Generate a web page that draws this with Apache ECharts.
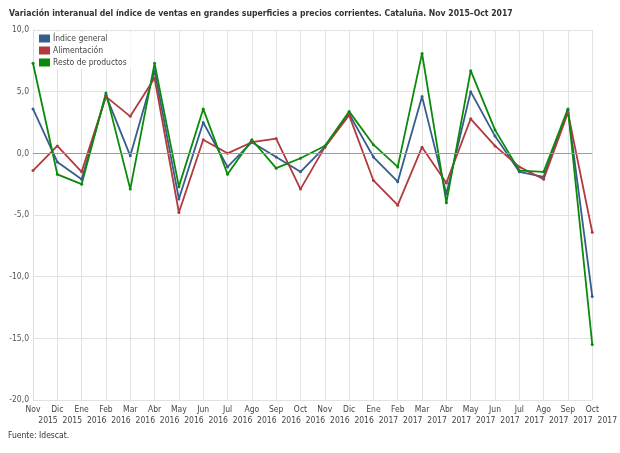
<!DOCTYPE html>
<html>
<head>
<meta charset="utf-8">
<script src="https://cdn.jsdelivr.net/npm/echarts@6/dist/echarts.min.js"></script>
<style>
html,body{margin:0;padding:0;background:#fff;}
#c{width:620px;height:453px;}
</style>
</head>
<body>
<div id="c"></div>
<script>
var months = ['Nov','Dic','Ene','Feb','Mar','Abr','May','Jun','Jul','Ago','Sep','Oct','Nov','Dic','Ene','Feb','Mar','Abr','May','Jun','Jul','Ago','Sep','Oct'];
var years = ['2015','2015','2016','2016','2016','2016','2016','2016','2016','2016','2016','2016','2016','2016','2017','2017','2017','2017','2017','2017','2017','2017','2017','2017'];
var yTicks = [-20,-15,-10,-5,0,5,10];
var indiceGeneral = [3.6,-0.7,-2.1,4.7,-0.2,6.7,-3.7,2.5,-1.1,0.9,-0.3,-1.5,0.5,3.2,-0.3,-2.3,4.6,-3.3,5.0,1.4,-1.5,-1.9,3.5,-11.6];
var alimentacion = [-1.4,0.6,-1.5,4.6,3.0,6.1,-4.8,1.1,0.0,0.9,1.2,-2.9,0.5,3.1,-2.2,-4.2,0.5,-2.4,2.8,0.6,-1.1,-2.1,3.3,-6.4];
var restoProductos = [7.3,-1.7,-2.5,4.9,-2.9,7.3,-2.7,3.6,-1.7,1.1,-1.2,-0.4,0.6,3.4,0.7,-1.1,8.1,-4.0,6.7,1.9,-1.4,-1.5,3.6,-15.5];

var FONT = "'DejaVu Sans Condensed','DejaVu Sans',sans-serif";
var chart = echarts.init(document.getElementById('c'), null, {renderer:'canvas'});
function mkSeries(name, data, color){
  return {
    name: name, type: 'line', data: data, xAxisIndex: 0,
    symbol: 'circle', symbolSize: 3, showSymbol: true,
    lineStyle: {color: color, width: 1.8},
    itemStyle: {color: color},
    emphasis: {disabled: true}, animation: false
  };
}
var s0 = mkSeries('Índice general', indiceGeneral, '#365d8c');
s0.markLine = {silent:true, symbol:['none','none'], label:{show:false},
  lineStyle:{color:'#9a9a9a', width:1, type:'solid'}, data:[{yAxis:0}], animation:false};
chart.setOption({
  animation: false,
  title: {
    text: 'Variación interanual del índice de ventas en grandes superficies a precios corrientes. Cataluña. Nov 2015–Oct 2017',
    left: 4, top: 4,
    textStyle: {fontFamily: FONT, fontSize: 8.6, fontWeight: 'bold', color: '#333'}
  },
  legend: {
    orient: 'vertical', left: 36, top: 32,
    icon: 'rect', itemWidth: 11, itemHeight: 8, itemGap: 3,
    backgroundColor: '#fff', padding: [2,4,2,3],
    textStyle: {fontFamily: FONT, fontSize: 8.5, color: '#444', padding: [0,0,0,-2]},
    data: ['Índice general','Alimentación','Resto de productos']
  },
  graphic: [{type:'text', left: 8, top: 431,
    style: {text: 'Fuente: Idescat.', fontFamily: FONT, fontSize: 8.5, fill: '#333'}}],
  grid: {left: 33, right: 27, top: 30, bottom: 53, containLabel: false},
  xAxis: [{
    type: 'category', data: months, boundaryGap: false, position: 'bottom',
    axisLine: {show: true, lineStyle: {color: '#dddddd'}},
    axisTick: {show: false},
    splitLine: {show: true, lineStyle: {color: '#e2e2e2'}},
    axisLabel: {interval: 0, margin: 5, fontFamily: FONT, fontSize: 8.5, color: '#444'}
  },{
    type: 'category', data: years, boundaryGap: false, position: 'bottom',
    axisLine: {show: false}, axisTick: {show: false}, splitLine: {show: false},
    axisLabel: {interval: 0, margin: 16, padding: [0,0,0,30], fontFamily: FONT, fontSize: 8.5, color: '#444'}
  }],
  yAxis: {
    type: 'value', min: yTicks[0], max: yTicks[yTicks.length-1], interval: 5,
    axisLine: {show: true, lineStyle: {color: '#dddddd'}},
    axisTick: {show: false},
    splitLine: {show: true, lineStyle: {color: '#e2e2e2'}},
    axisLabel: {margin: 4, fontFamily: FONT, fontSize: 8.5, color: '#555',
      formatter: function(v){ return v.toFixed(1).replace('.', ','); }}
  },
  series: [s0, mkSeries('Alimentación', alimentacion, '#b03a3e'), mkSeries('Resto de productos', restoProductos, '#0a8a0a')]
});
</script>
</body>
</html>
